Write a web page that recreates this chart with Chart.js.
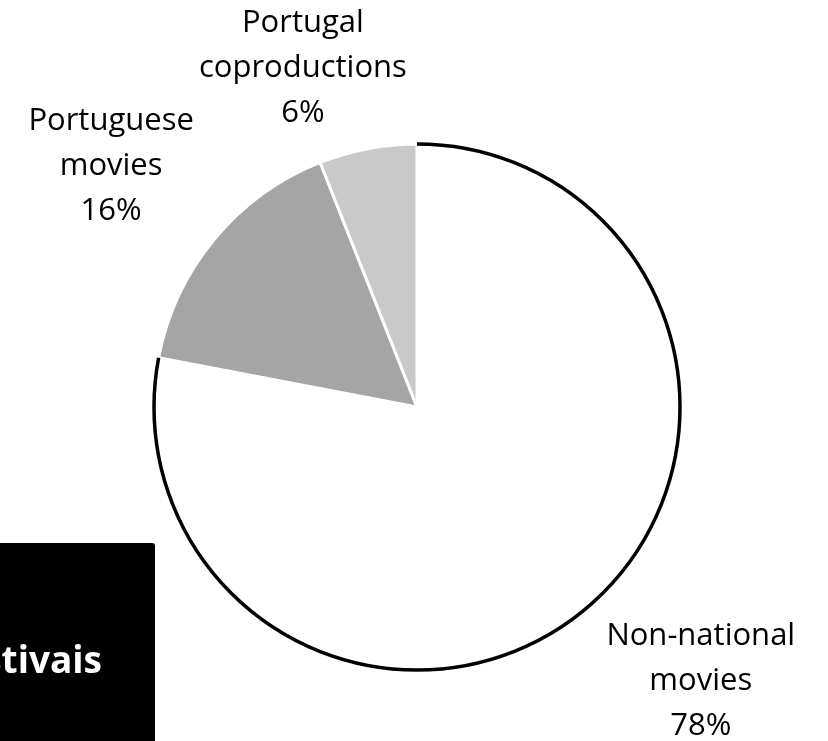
<!DOCTYPE html>
<html>
<head>
<meta charset="utf-8">
<script src="https://cdn.jsdelivr.net/npm/chart.js@4/dist/chart.umd.min.js"></script>
<style>
  html, body { margin: 0; padding: 0; background: #fff; }
  canvas { display: block; }
</style>
</head>
<body>
<canvas id="myChart" width="828" height="741"></canvas>
<script>
// share of films by origin
const categories = [['Non-national', 'movies'], ['Portuguese', 'movies'], ['Portugal', 'coproductions']];
const shares = [78, 16, 6];
const sliceColors = ['#ffffff', '#a5a5a5', '#c9c9c9'];

// where each label sits relative to its slice: angle shift (deg) and distance / radius
const labelShift = [-6.4, -1.4, -7.8];
const labelDist = [1.5, 1.48, 1.36];

const boxText = 'Festivais';

const labelFont = '31px "Open Sans"';

// black outline only along the rim of the white slice
const rimPlugin = {
  id: 'rim',
  afterDatasetsDraw(chart) {
    const arc = chart.getDatasetMeta(0).data[0];
    const ctx = chart.ctx;
    ctx.save();
    ctx.beginPath();
    ctx.arc(arc.x, arc.y, arc.outerRadius, arc.startAngle, arc.endAngle);
    ctx.lineWidth = 3.5;
    ctx.strokeStyle = '#000';
    ctx.stroke();
    ctx.restore();
  }
};

// category name + percentage outside each slice
const outsideLabels = {
  id: 'outsideLabels',
  afterDraw(chart) {
    const ctx = chart.ctx;
    const meta = chart.getDatasetMeta(0);
    ctx.save();
    ctx.font = labelFont;
    ctx.fillStyle = '#000';
    ctx.textAlign = 'center';
    ctx.textBaseline = 'middle';
    meta.data.forEach((arc, i) => {
      const mid = (arc.startAngle + arc.endAngle) / 2 + labelShift[i] * Math.PI / 180;
      const r = arc.outerRadius * labelDist[i];
      const cx = arc.x + Math.cos(mid) * r;
      const cy = arc.y + Math.sin(mid) * r;
      const lines = categories[i].concat([shares[i] + '%']);
      const lh = 45;
      lines.forEach((t, k) => {
        ctx.fillText(t, cx, cy + (k - (lines.length - 1) / 2) * lh);
      });
    });
    ctx.restore();
  }
};

// black box in the lower left corner
const cornerBox = {
  id: 'cornerBox',
  afterDraw(chart) {
    const ctx = chart.ctx;
    ctx.save();
    ctx.fillStyle = '#000';
    ctx.beginPath();
    ctx.roundRect(-10, 543, 165, 220, 3);
    ctx.fill();
    ctx.fillStyle = '#fff';
    ctx.font = 'bold 37px "Open Sans"';
    ctx.textAlign = 'right';
    ctx.textBaseline = 'alphabetic';
    ctx.fillText(boxText, 102, 673);
    ctx.restore();
  }
};

const myChart = document.getElementById('myChart').getContext('2d');

new Chart(myChart, {
  type: 'pie',
  data: {
    labels: categories.map(c => c.join(' ')),
    datasets: [{
      data: shares,
      backgroundColor: sliceColors,
      borderColor: ['#bdbdbd', '#ffffff', '#ffffff'],
      borderWidth: [1, 3, 3]
    }]
  },
  options: {
    responsive: false,
    animation: false,
    layout: {
      padding: { left: 152.5, right: 146.5, top: 142.5, bottom: 69.5 }
    },
    plugins: {
      legend: { display: false },
      tooltip: { enabled: false }
    }
  },
  plugins: [rimPlugin, outsideLabels, cornerBox]
});
</script>
</body>
</html>
